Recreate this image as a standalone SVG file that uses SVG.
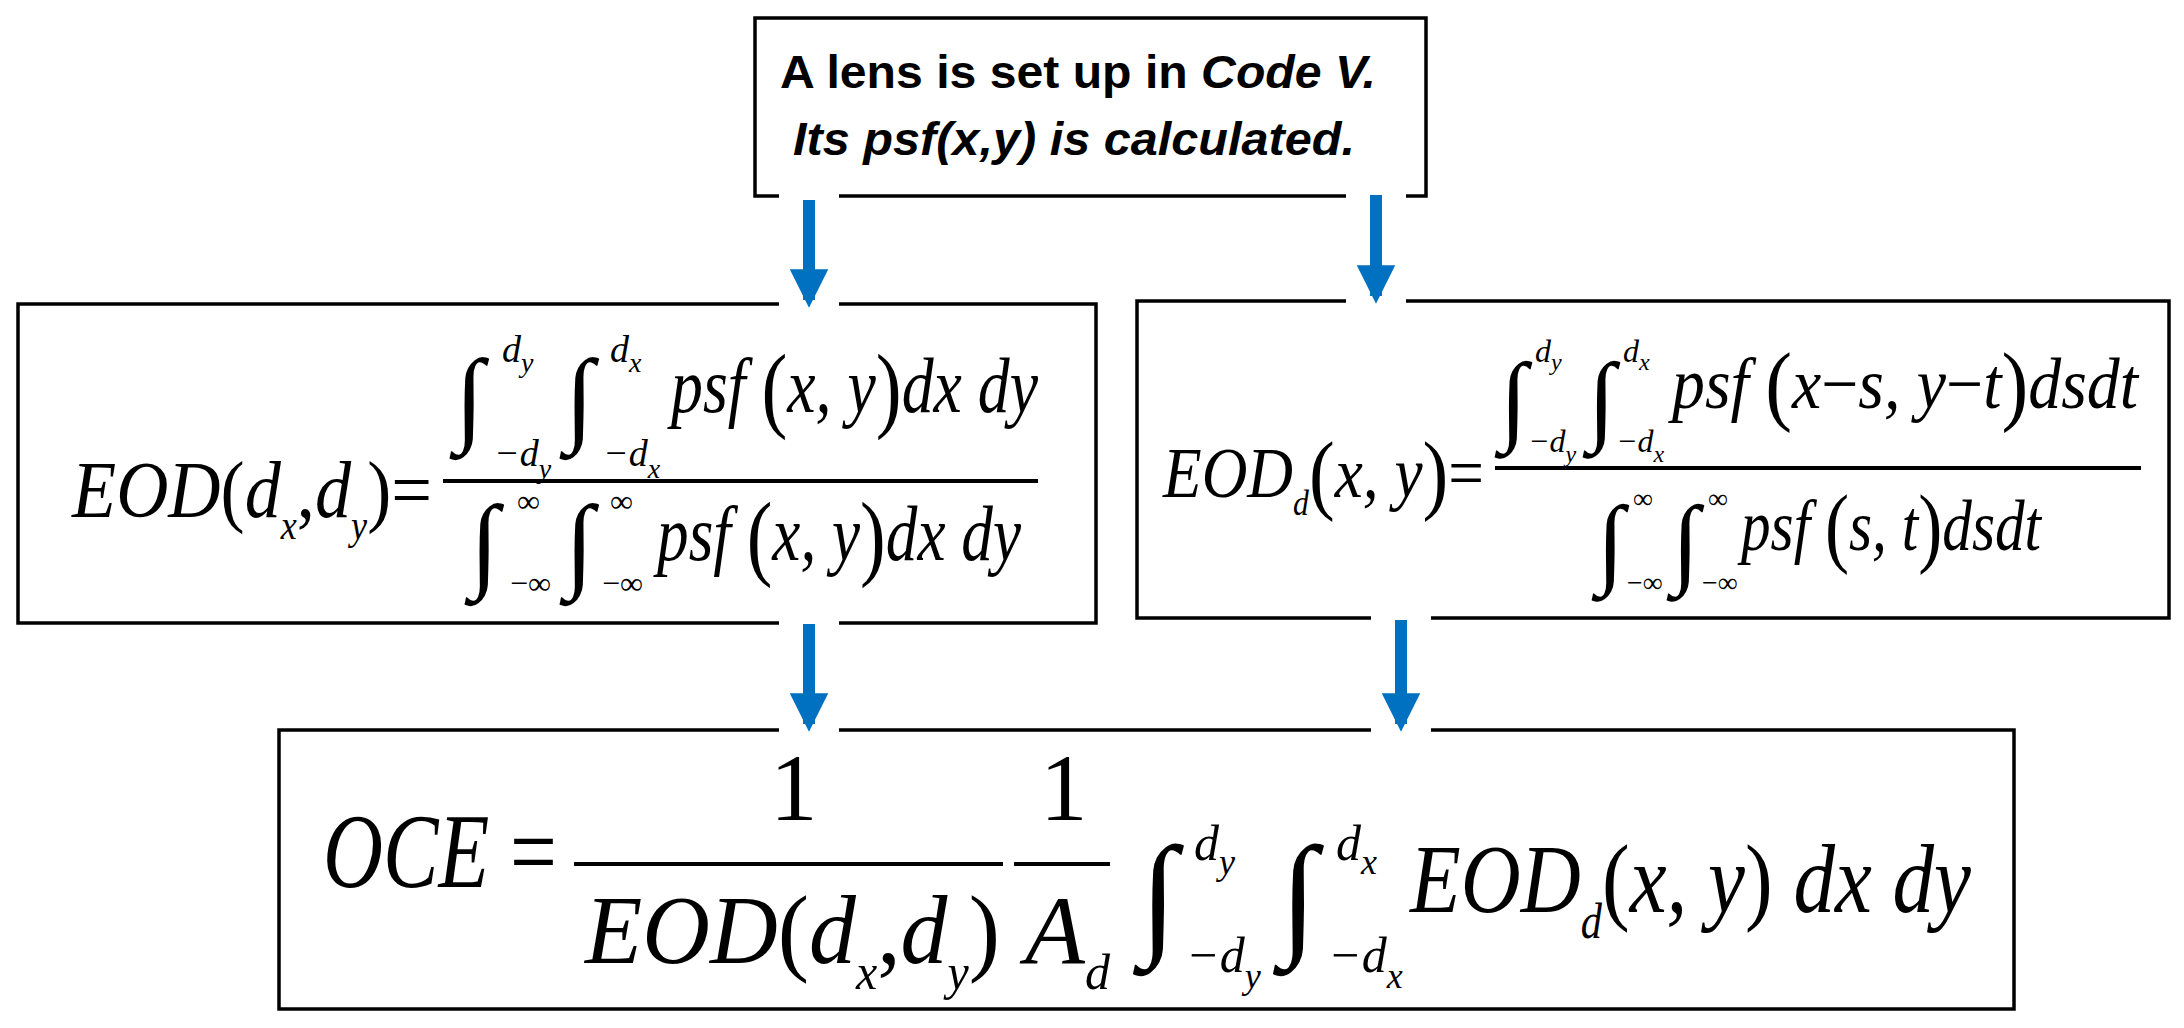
<svg xmlns="http://www.w3.org/2000/svg" width="2184" height="1028" viewBox="0 0 2184 1028">
<style>
.box{fill:#fff;stroke:#000;stroke-width:3.5}
.m{font-family:"Liberation Serif",serif;font-style:italic;fill:#000}
.r{font-family:"Liberation Serif",serif;font-style:normal;fill:#000}
.t{font-family:"Liberation Sans",Arial,sans-serif;font-weight:bold;font-size:46px;fill:#000}
.arr{stroke:#0070c0;stroke-width:12;fill:none}
.gap{stroke:#fff;stroke-width:60}
</style>
<defs><marker id="ah" viewBox="0 0 10 10" refX="8" refY="5" markerWidth="3.6" markerHeight="3.2" orient="auto" markerUnits="strokeWidth"><path d="M0,0 L10,5 L0,10 z" fill="#0070c0"/></marker></defs>
<g id="top"><rect class="box" x="755" y="18" width="671" height="178"/>
<text class="t" x="780" y="88" textLength="596" lengthAdjust="spacingAndGlyphs">A lens is set up in <tspan font-style="italic">Code V.</tspan></text>
<text class="t" x="793" y="155" font-style="italic" textLength="562" lengthAdjust="spacingAndGlyphs">Its psf(x,y) is calculated.</text></g>
<g id="left"><rect class="box" x="18" y="304" width="1078" height="319"/>
<text class="m" x="72" y="517" font-size="80" textLength="360" lengthAdjust="spacingAndGlyphs">EOD<tspan class="r">(</tspan>d<tspan font-size="40" dy="22">x</tspan><tspan class="r" dy="-22">,</tspan>d<tspan font-size="40" dy="22">y</tspan><tspan class="r" dy="-22">)</tspan><tspan class="r">=</tspan></text>
<line x1="443" y1="481" x2="1038" y2="481" stroke="#000" stroke-width="4"/>
<text class="r" x="455" y="432" font-size="105">∫</text><text class="m" x="502" y="362" font-size="38">d<tspan font-size="28" dy="10">y</tspan></text><text class="m" x="494" y="466" font-size="38">−d<tspan font-size="28" dy="12">y</tspan></text>
<text class="r" x="565" y="432" font-size="105">∫</text><text class="m" x="610" y="362" font-size="38">d<tspan font-size="28" dy="10">x</tspan></text><text class="m" x="603" y="466" font-size="38">−d<tspan font-size="28" dy="12">x</tspan></text>
<text class="m" x="671" y="412" font-size="78" textLength="367" lengthAdjust="spacingAndGlyphs">psf <tspan class="r" font-size="95" dy="8">(</tspan><tspan dy="-8">x, y</tspan><tspan class="r" font-size="95" dy="8">)</tspan><tspan dy="-8">dx dy</tspan></text>
<text class="r" x="470" y="578" font-size="105">∫</text><text class="r" x="517" y="512" font-size="32">∞</text><text class="r" x="510" y="594" font-size="32">−∞</text>
<text class="r" x="565" y="578" font-size="105">∫</text><text class="r" x="610" y="512" font-size="32">∞</text><text class="r" x="602" y="594" font-size="32">−∞</text>
<text class="m" x="657" y="560" font-size="78" textLength="364" lengthAdjust="spacingAndGlyphs">psf <tspan class="r" font-size="95" dy="8">(</tspan><tspan dy="-8">x, y</tspan><tspan class="r" font-size="95" dy="8">)</tspan><tspan dy="-8">dx dy</tspan></text></g>
<g id="right"><rect class="box" x="1137" y="301" width="1032" height="317"/>
<text class="m" x="1163" y="497" font-size="72" textLength="321" lengthAdjust="spacingAndGlyphs">EOD<tspan font-size="36" dy="18">d</tspan><tspan class="r" font-size="88" dy="-12">(</tspan><tspan dy="-6">x, y</tspan><tspan class="r" font-size="88" dy="6">)</tspan><tspan class="r" dy="-6">=</tspan></text>
<line x1="1495" y1="468" x2="2141" y2="468" stroke="#000" stroke-width="4"/>
<text class="r" x="1500" y="432" font-size="100">∫</text><text class="m" x="1535" y="362" font-size="32">d<tspan font-size="24" dy="8">y</tspan></text><text class="m" x="1528" y="452" font-size="32">−d<tspan font-size="24" dy="10">y</tspan></text>
<text class="r" x="1588" y="432" font-size="100">∫</text><text class="m" x="1623" y="362" font-size="32">d<tspan font-size="24" dy="8">x</tspan></text><text class="m" x="1616" y="452" font-size="32">−d<tspan font-size="24" dy="10">x</tspan></text>
<text class="m" x="1672" y="408" font-size="72" textLength="466" lengthAdjust="spacingAndGlyphs">psf <tspan class="r" font-size="88" dy="6">(</tspan><tspan dy="-6">x</tspan><tspan class="r">−</tspan>s, y<tspan class="r">−</tspan>t<tspan class="r" font-size="88" dy="6">)</tspan><tspan dy="-6">dsdt</tspan></text>
<text class="r" x="1597" y="575" font-size="100">∫</text><text class="r" x="1633" y="508" font-size="28">∞</text><text class="r" x="1627" y="592" font-size="28">−∞</text>
<text class="r" x="1672" y="575" font-size="100">∫</text><text class="r" x="1708" y="508" font-size="28">∞</text><text class="r" x="1702" y="592" font-size="28">−∞</text>
<text class="m" x="1741" y="550" font-size="72" textLength="300" lengthAdjust="spacingAndGlyphs">psf <tspan class="r" font-size="88" dy="6">(</tspan><tspan dy="-6">s, t</tspan><tspan class="r" font-size="88" dy="6">)</tspan><tspan dy="-6">dsdt</tspan></text></g>
<g id="bottom"><rect class="box" x="279" y="730" width="1735" height="279"/>
<text class="m" x="323" y="887" font-size="105" textLength="234" lengthAdjust="spacingAndGlyphs">OCE <tspan class="r">=</tspan></text>
<line x1="574" y1="864" x2="1003" y2="864" stroke="#000" stroke-width="4"/>
<line x1="1014" y1="864" x2="1110" y2="864" stroke="#000" stroke-width="4"/>
<text class="r" x="770" y="820" font-size="95">1</text><text class="r" x="1040" y="820" font-size="95">1</text>
<text class="m" x="585" y="963" font-size="98" textLength="415" lengthAdjust="spacingAndGlyphs">EOD<tspan class="r">(</tspan>d<tspan font-size="50" dy="26">x</tspan><tspan class="r" dy="-26">,</tspan>d<tspan font-size="50" dy="26">y</tspan><tspan class="r" dy="-26">)</tspan></text>
<text class="m" x="1025" y="963" font-size="98">A<tspan font-size="50" dy="26">d</tspan></text>
<text class="r" x="1140" y="940" font-size="135">∫</text><text class="m" x="1194" y="860" font-size="50">d<tspan font-size="36" dy="14">y</tspan></text><text class="m" x="1186" y="972" font-size="50">−d<tspan font-size="36" dy="16">y</tspan></text>
<text class="r" x="1280" y="940" font-size="135">∫</text><text class="m" x="1336" y="860" font-size="50">d<tspan font-size="36" dy="14">x</tspan></text><text class="m" x="1328" y="972" font-size="50">−d<tspan font-size="36" dy="16">x</tspan></text>
<text class="m" x="1410" y="912" font-size="98" textLength="561" lengthAdjust="spacingAndGlyphs">EOD<tspan font-size="50" dy="26">d</tspan><tspan class="r" dy="-26">(</tspan>x, y<tspan class="r">)</tspan> dx dy</text></g>
<g id="connectors">
<line class="gap" x1="809" y1="296" x2="809" y2="312"/><line class="gap" x1="1376" y1="293" x2="1376" y2="308"/>
<line class="gap" x1="809" y1="722" x2="809" y2="738"/><line class="gap" x1="1401" y1="722" x2="1401" y2="738"/>
<line class="gap" x1="809" y1="618" x2="809" y2="628"/><line class="gap" x1="1401" y1="613" x2="1401" y2="623"/>
<line class="gap" x1="809" y1="192" x2="809" y2="200"/><line class="gap" x1="1376" y1="192" x2="1376" y2="200"/>
<line class="arr" x1="809" y1="200" x2="809" y2="300" marker-end="url(#ah)"/>
<line class="arr" x1="1376" y1="195" x2="1376" y2="296" marker-end="url(#ah)"/>
<line class="arr" x1="809" y1="624" x2="809" y2="724" marker-end="url(#ah)"/>
<line class="arr" x1="1401" y1="620" x2="1401" y2="724" marker-end="url(#ah)"/>
</g>
</svg>
